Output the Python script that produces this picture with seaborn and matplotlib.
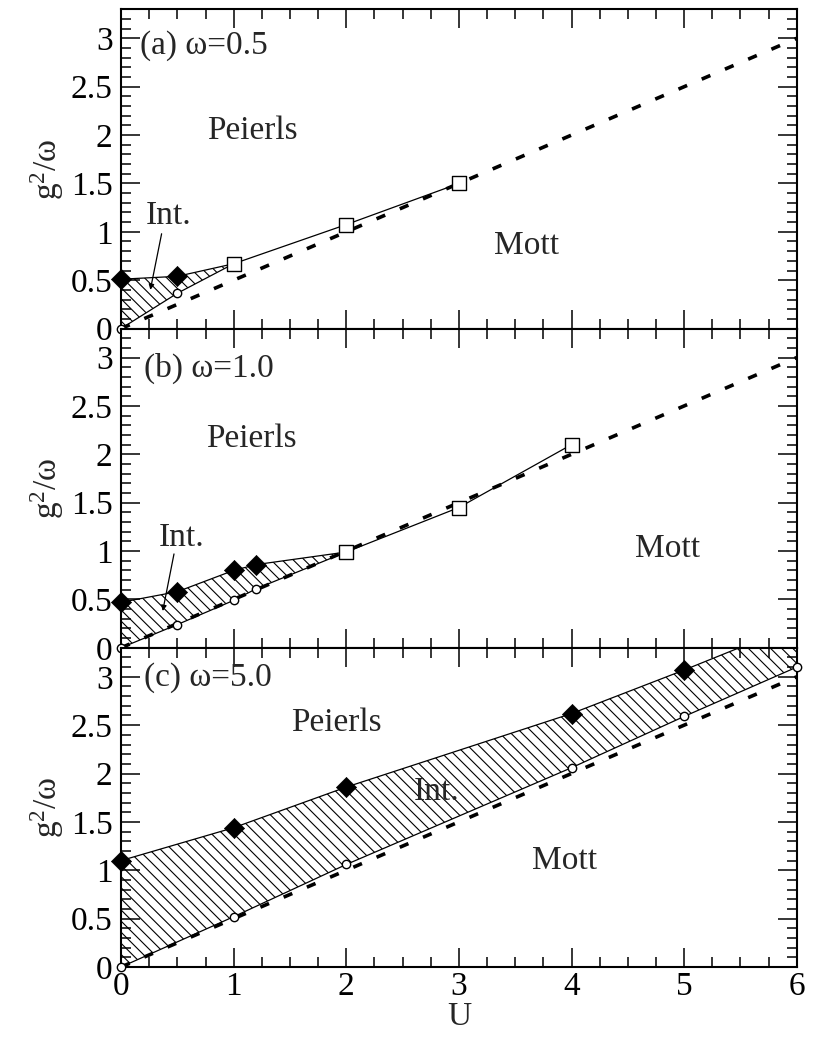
import matplotlib
matplotlib.use("Agg")
import matplotlib.pyplot as plt
from matplotlib.ticker import MultipleLocator, FuncFormatter
import seaborn as sns

# ---- phase boundaries, omega = 0.5 ----
a_peierls_U = [0.0, 0.5]
a_peierls_g = [0.51, 0.54]
a_mott_U = [0.0, 0.5]
a_mott_g = [0.0, 0.365]
a_direct_U = [1.0, 2.0, 3.0]
a_direct_g = [0.67, 1.075, 1.5]

# ---- phase boundaries, omega = 1.0 ----
b_peierls_U = [0.0, 0.5, 1.0, 1.2]
b_peierls_g = [0.47, 0.58, 0.80, 0.86]
b_mott_U = [0.0, 0.5, 1.0, 1.2]
b_mott_g = [0.0, 0.24, 0.49, 0.61]
b_direct_U = [2.0, 3.0, 4.0]
b_direct_g = [0.99, 1.45, 2.1]

# ---- phase boundaries, omega = 5.0 (last Peierls point lies above the frame) ----
c_peierls_U = [0.0, 1.0, 2.0, 4.0, 5.0, 6.0]
c_peierls_g = [1.10, 1.44, 1.86, 2.62, 3.07, 3.54]
c_mott_U = [0.0, 1.0, 2.0, 4.0, 5.0, 6.0]
c_mott_g = [0.0, 0.52, 1.06, 2.06, 2.59, 3.10]
c_direct_U = []
c_direct_g = []

# strong-coupling line g^2/omega = U/2
sc_U = [0, 1, 2, 3, 4, 5, 6]
sc_g = [0.0, 0.5, 1.0, 1.5, 2.0, 2.5, 3.0]

panel_titles = ["(a) ω=0.5", "(b) ω=1.0", "(c) ω=5.0"]
x_ticks = [0, 1, 2, 3, 4, 5, 6]
y_ticks = [0, 0.5, 1, 1.5, 2, 2.5, 3]
G_MAX = 3.3

sns.set_theme(style="ticks")
plt.rcParams["font.family"] = ["Liberation Serif", "DejaVu Serif"]
plt.rcParams["mathtext.fontset"] = "custom"
plt.rcParams["mathtext.rm"] = "Liberation Serif"
plt.rcParams["mathtext.it"] = "Liberation Serif"
plt.rcParams["hatch.linewidth"] = 0.8
plt.rcParams["hatch.color"] = "black"

FS = 24

fig, axes = plt.subplots(3, 1, figsize=(8.18, 10.37), dpi=100, sharex=True)
fig.subplots_adjust(left=0.148, right=0.974, top=0.991, bottom=0.0675, hspace=0)

panels = [
    (a_peierls_U, a_peierls_g, a_mott_U, a_mott_g, a_direct_U, a_direct_g),
    (b_peierls_U, b_peierls_g, b_mott_U, b_mott_g, b_direct_U, b_direct_g),
    (c_peierls_U, c_peierls_g, c_mott_U, c_mott_g, c_direct_U, c_direct_g),
]

# region labels: (text, U, g)
region_labels = [
    [("Peierls", 1.17, 2.05), ("Mott", 3.6, 0.86), ("Int.", 0.42, 1.17)],
    [("Peierls", 1.16, 2.16), ("Mott", 4.85, 1.02), ("Int.", 0.54, 1.14)],
    [("Peierls", 1.91, 2.52), ("Mott", 3.94, 1.10), ("Int.", 2.8, 1.81)],
]
# arrows pointing into the intermediate region: (start, end)
int_arrows = [
    ((0.36, 0.98), (0.26, 0.40)),
    ((0.47, 0.97), (0.37, 0.38)),
    None,
]
title_pos = [(0.17, 2.93), (0.20, 2.89), (0.20, 2.99)]

fmt = FuncFormatter(lambda v, p: f"{v:g}")


def draw_markers(ax, xs, ys, **kw):
    """Scatter points that fall inside the frame, unclipped at the spines."""
    pts = [(x, y) for x, y in zip(xs, ys) if y <= G_MAX]
    if not pts:
        return
    n0 = len(ax.collections)
    sns.scatterplot(x=[p[0] for p in pts], y=[p[1] for p in pts], ax=ax,
                    zorder=5, **kw)
    for coll in ax.collections[n0:]:
        coll.set_clip_on(False)


for i, ax in enumerate(axes):
    pU, pg, mU, mg, dU, dg = panels[i]

    # upper and lower edges of the intermediate phase
    upU = list(pU) + list(dU[:1])
    upg = list(pg) + list(dg[:1])
    loU = list(mU) + list(dU[:1])
    log = list(mg) + list(dg[:1])
    ax.fill_between(upU, log, upg, facecolor="none", edgecolor="black",
                    hatch="\\\\\\", linewidth=0, zorder=1)

    # strong-coupling dashed line
    sns.lineplot(x=sc_U, y=sc_g, ax=ax, color="black", lw=2.6,
                 linestyle=(0, (2.6, 4.4)), sort=False, zorder=2)

    # boundary lines
    sns.lineplot(x=upU + list(dU[1:]), y=upg + list(dg[1:]), ax=ax,
                 color="black", lw=0.9, sort=False, zorder=3)
    sns.lineplot(x=loU, y=log, ax=ax, color="black", lw=0.9, sort=False, zorder=3)

    # markers
    draw_markers(ax, pU, pg, marker="D", s=105, color="black",
                 edgecolor="black", linewidth=0.5)
    draw_markers(ax, mU, mg, marker="o", s=36, facecolor="white",
                 edgecolor="black", linewidth=1.0)
    draw_markers(ax, dU, dg, marker="s", s=115, facecolor="white",
                 edgecolor="black", linewidth=1.0)

    ax.set_xlim(0, 6)
    ax.set_ylim(0, G_MAX)
    ax.set_xticks(x_ticks)
    ax.set_yticks(y_ticks)
    ax.xaxis.set_minor_locator(MultipleLocator(0.25))
    ax.yaxis.set_minor_locator(MultipleLocator(0.1))
    ax.yaxis.set_major_formatter(fmt)
    ax.tick_params(which="both", direction="in", top=True, right=True,
                   labelsize=FS, width=1.1, pad=6, colors="black")
    ax.tick_params(which="major", length=14)
    ax.tick_params(which="minor", length=7)
    for s in ax.spines.values():
        s.set_linewidth(1.5)
        s.set_color("black")
        s.set_visible(True)

    ax.set_ylabel("g$^{2}$/ω", fontsize=FS)
    ax.yaxis.set_label_coords(-0.082, 0.5)

    tx, ty = title_pos[i]
    ax.text(tx, ty, panel_titles[i], fontsize=FS, ha="left", va="center")
    for label, u, g in region_labels[i]:
        ax.text(u, g, label, fontsize=FS, ha="center", va="center", zorder=6)
    if int_arrows[i] is not None:
        (x0, y0), (x1, y1) = int_arrows[i]
        ax.annotate("", xy=(x1, y1), xytext=(x0, y0),
                    arrowprops=dict(arrowstyle="-|>", lw=0.9, color="black",
                                    mutation_scale=8, shrinkA=0, shrinkB=0))

for ax in axes[:-1]:
    ax.tick_params(labelbottom=False)
    ax.set_xlabel("")

axes[-1].set_xticklabels([str(t) for t in x_ticks])
axes[-1].tick_params(axis="x", pad=3)
axes[-1].set_xlabel("U", fontsize=FS, labelpad=0)

fig.savefig("out.png", dpi=100)
